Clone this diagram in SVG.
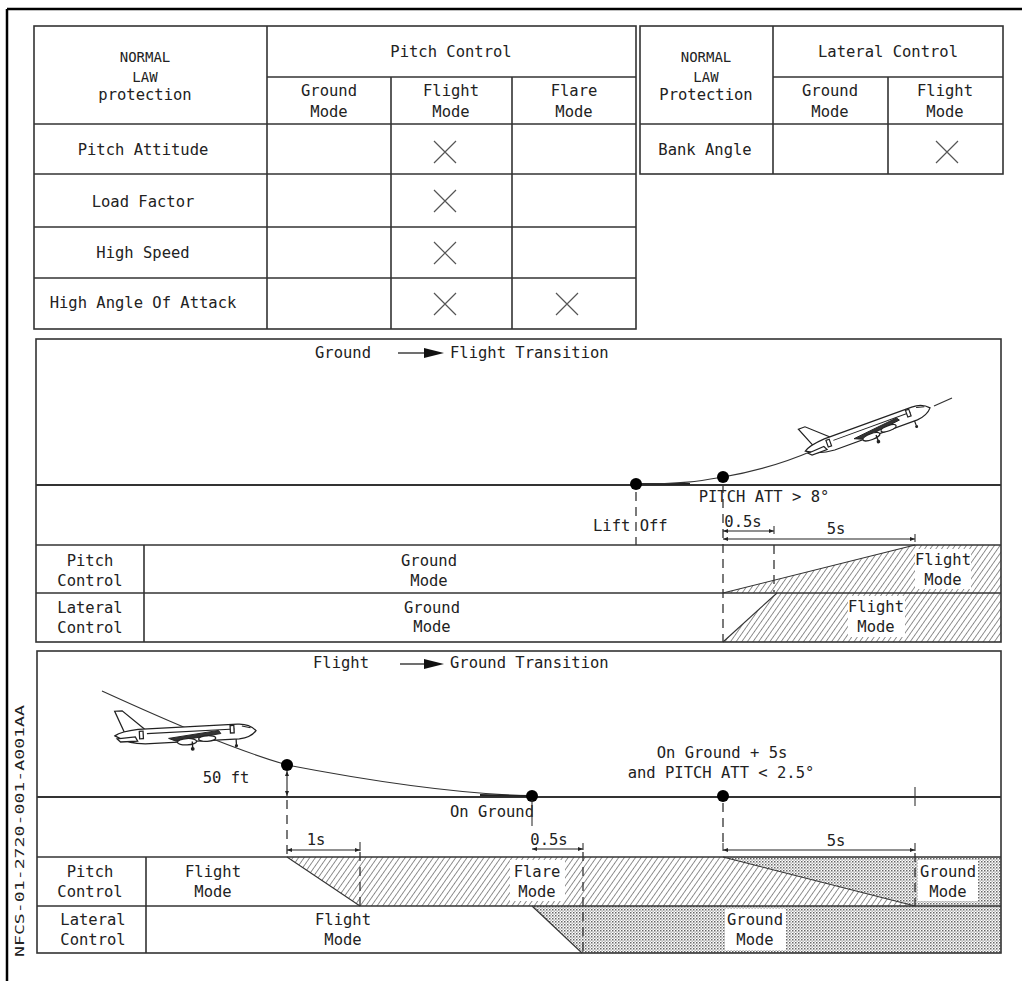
<svg xmlns="http://www.w3.org/2000/svg" width="1022" height="981" viewBox="0 0 1022 981">
<style>
.t{font-family:"DejaVu Sans Mono","Liberation Mono",monospace;font-size:15.5px;fill:#222}
.s{font-size:14px}
.c{text-anchor:middle}
.ln{stroke:#333;stroke-width:1.6;fill:none}
.th{stroke:#333;stroke-width:1.1;fill:none}
.dash{stroke:#333;stroke-width:1.3;fill:none;stroke-dasharray:9 6}
.xm{stroke:#555;stroke-width:1.2}
.dim{stroke:#222;stroke-width:1.1;fill:none;marker-start:url(#ah);marker-end:url(#ah)}
.dot{fill:#000}
.box{fill:#fff}
.pl{fill:#fff;stroke:#222;stroke-width:1.2}
.pk{stroke:#222;stroke-width:1;fill:none}
</style>
<defs>
<pattern id="hatch" patternUnits="userSpaceOnUse" width="4.6" height="4.6" patternTransform="rotate(35)">
<line x1="0" y1="0" x2="0" y2="4.6" stroke="#222" stroke-width="1"/>
</pattern>
<pattern id="stip" patternUnits="userSpaceOnUse" width="3" height="3">
<rect x="0" y="0" width="1.5" height="1.5" fill="#666"/>
<rect x="1.5" y="1.5" width="1.3" height="1.3" fill="#999"/>
</pattern>
<marker id="ah" viewBox="0 0 10 10" refX="10" refY="5" markerWidth="8" markerHeight="5" markerUnits="userSpaceOnUse" orient="auto-start-reverse">
<path d="M0,1 L10,5 L0,9 Z" fill="#222"/>
</marker>
<g id="plane">
<path class="pl" d="M9,-5 L1,-25 L8,-25 L29,-6 Z"/>
<path class="pl" d="M0,-2 Q6,-6 22,-7 L115,-7 Q126,-7 132,0 Q127,6 116,7 L28,7 Q12,6 0,-2 Z"/>
<path class="pl" d="M2,1 L19,0 L21,4 L5,4 Z"/>
<line class="pk" x1="30" y1="-2.5" x2="112" y2="-2.5"/>
<rect class="pl" x="23" y="-5" width="3.5" height="7"/>
<rect class="pl" x="108" y="-6" width="3.5" height="7"/>
<path class="pk" d="M119,-5 L127,-3"/>
<path d="M50,3 L97,-2 L99,1 L57,6 Z" fill="#333" stroke="#222" stroke-width="0.9"/>
<ellipse class="pl" cx="67" cy="7" rx="9" ry="3"/>
<ellipse class="pl" cx="86" cy="5" rx="8" ry="2.6"/>
<line x1="72" y1="7" x2="72" y2="13" stroke="#222" stroke-width="1.3"/>
<circle cx="72" cy="14" r="1.8" fill="#222"/>
<line x1="113" y1="7" x2="113" y2="12" stroke="#222" stroke-width="1.2"/>
<circle cx="113" cy="13" r="1.5" fill="#222"/>
</g>
</defs>

<rect width="1022" height="981" fill="#fff"/>

<g id="frame">
<line x1="7" y1="9" x2="1022" y2="9" stroke="#000" stroke-width="2.5"/>
<line x1="7" y1="9" x2="7" y2="981" stroke="#000" stroke-width="2.5"/>
</g>

<g id="pitch-table">
<rect class="ln" x="34" y="26" width="602" height="303"/>
<line class="ln" x1="267" y1="26" x2="267" y2="329"/>
<line class="ln" x1="267" y1="77" x2="636" y2="77"/>
<line class="ln" x1="391" y1="77" x2="391" y2="329"/>
<line class="ln" x1="512" y1="77" x2="512" y2="329"/>
<line class="ln" x1="34" y1="124" x2="636" y2="124"/>
<line class="ln" x1="34" y1="174" x2="636" y2="174"/>
<line class="ln" x1="34" y1="227" x2="636" y2="227"/>
<line class="ln" x1="34" y1="278" x2="636" y2="278"/>
<text class="t s c" x="145" y="62">NORMAL</text>
<text class="t s c" x="145" y="82">LAW</text>
<text class="t c" x="145" y="100">protection</text>
<text class="t c" x="451" y="57">Pitch Control</text>
<text class="t c" x="329" y="96">Ground</text>
<text class="t c" x="329" y="117">Mode</text>
<text class="t c" x="451" y="96">Flight</text>
<text class="t c" x="451" y="117">Mode</text>
<text class="t c" x="574" y="96">Flare</text>
<text class="t c" x="574" y="117">Mode</text>
<text class="t c" x="143" y="155">Pitch Attitude</text>
<text class="t c" x="143" y="207">Load Factor</text>
<text class="t c" x="143" y="258">High Speed</text>
<text class="t c" x="143" y="308">High Angle Of Attack</text>
<path class="xm" d="M434,141 L456,163 M456,141 L434,163"/>
<path class="xm" d="M434,190 L456,212 M456,190 L434,212"/>
<path class="xm" d="M434,242 L456,264 M456,242 L434,264"/>
<path class="xm" d="M434,293 L456,315 M456,293 L434,315"/>
<path class="xm" d="M556,293 L578,315 M578,293 L556,315"/>
</g>

<g id="lateral-table">
<rect class="ln" x="640" y="26" width="363" height="148"/>
<line class="ln" x1="773" y1="26" x2="773" y2="174"/>
<line class="ln" x1="773" y1="77" x2="1003" y2="77"/>
<line class="ln" x1="888" y1="77" x2="888" y2="174"/>
<line class="ln" x1="640" y1="124" x2="1003" y2="124"/>
<text class="t s c" x="706" y="62">NORMAL</text>
<text class="t s c" x="706" y="82">LAW</text>
<text class="t c" x="706" y="100">Protection</text>
<text class="t c" x="888" y="57">Lateral Control</text>
<text class="t c" x="830" y="96">Ground</text>
<text class="t c" x="830" y="117">Mode</text>
<text class="t c" x="945" y="96">Flight</text>
<text class="t c" x="945" y="117">Mode</text>
<text class="t c" x="705" y="155">Bank Angle</text>
<path class="xm" d="M936,141 L958,163 M958,141 L936,163"/>
</g>

<g id="ground-to-flight">
<polygon points="723,593 915,545 1001,545 1001,593" fill="url(#hatch)"/>
<polygon points="723,642 777,593 1001,593 1001,642" fill="url(#hatch)"/>
<rect class="box" x="915" y="549" width="56" height="40"/>
<rect class="box" x="848" y="596" width="57" height="41"/>
<rect class="ln" x="36" y="339" width="965" height="303"/>
<line x1="36" y1="485" x2="1001" y2="485" stroke="#333" stroke-width="2"/>
<line class="ln" x1="36" y1="545" x2="1001" y2="545"/>
<line class="ln" x1="36" y1="593" x2="1001" y2="593"/>
<line class="ln" x1="144" y1="545" x2="144" y2="642"/>
<line class="th" x1="723" y1="593" x2="915" y2="545"/>
<line class="th" x1="723" y1="642" x2="777" y2="593"/>
<text class="t" x="315" y="358">Ground</text>
<line x1="398" y1="353" x2="426" y2="353" stroke="#222" stroke-width="1.3"/>
<path d="M424,348 L444,353 L424,358 Z" fill="#111"/>
<text class="t" x="450" y="358">Flight Transition</text>
<path d="M636,484 L690,484" stroke="#222" stroke-width="2.2"/>
<path class="th" d="M636,484 C685,484 700,481 723,477 C752,472 782,464 812,451"/>
<line class="th" x1="934" y1="406" x2="952" y2="398"/>
<use href="#plane" transform="translate(806,453) rotate(-20)"/>
<circle class="dot" cx="636" cy="484" r="6"/>
<circle class="dot" cx="723" cy="477" r="6"/>
<text class="t c" x="764" y="502">PITCH ATT &gt; 8°</text>
<text class="t" x="593" y="531">Lift Off</text>
<line class="dash" x1="636" y1="492" x2="636" y2="545"/>
<line class="dash" x1="723" y1="484" x2="723" y2="642"/>
<line class="dash" x1="774" y1="545" x2="774" y2="592" stroke-dasharray="8 5"/>
<text class="t c" x="743" y="527">0.5s</text>
<text class="t c" x="836" y="534">5s</text>
<line class="dim" x1="723" y1="531" x2="774" y2="531"/>
<line class="th" x1="774" y1="526" x2="774" y2="534"/>
<line class="dim" x1="723" y1="539" x2="915" y2="539"/>
<line class="th" x1="915" y1="534" x2="915" y2="542"/>
<text class="t c" x="90" y="566">Pitch</text>
<text class="t c" x="90" y="586">Control</text>
<text class="t c" x="90" y="613">Lateral</text>
<text class="t c" x="90" y="633">Control</text>
<text class="t c" x="429" y="566">Ground</text>
<text class="t c" x="429" y="586">Mode</text>
<text class="t c" x="432" y="613">Ground</text>
<text class="t c" x="432" y="632">Mode</text>
<text class="t c" x="943" y="565">Flight</text>
<text class="t c" x="943" y="585">Mode</text>
<text class="t c" x="876" y="612">Flight</text>
<text class="t c" x="876" y="632">Mode</text>
</g>

<g id="flight-to-ground">
<polygon points="287,857 723,857 915,906 360,906" fill="url(#hatch)"/>
<polygon points="723,857 1001,857 1001,906 915,906" fill="url(#stip)"/>
<polygon points="532,906 1001,906 1001,953 582,953" fill="url(#stip)"/>
<rect class="box" x="510" y="860" width="55" height="41"/>
<rect class="box" x="918" y="860" width="60" height="41"/>
<rect class="box" x="725" y="909" width="61" height="41"/>
<rect class="ln" x="37" y="651" width="964" height="302"/>
<line x1="37" y1="797" x2="1001" y2="797" stroke="#333" stroke-width="1.8"/>
<line class="ln" x1="37" y1="857" x2="1001" y2="857"/>
<line class="ln" x1="37" y1="906" x2="1001" y2="906"/>
<line class="ln" x1="146" y1="857" x2="146" y2="953"/>
<line class="th" x1="287" y1="857" x2="360" y2="906"/>
<line class="th" x1="723" y1="857" x2="915" y2="906"/>
<line class="th" x1="532" y1="906" x2="582" y2="953"/>
<text class="t" x="313" y="668">Flight</text>
<line x1="400" y1="664" x2="426" y2="664" stroke="#222" stroke-width="1.3"/>
<path d="M424,659 L444,664 L424,669 Z" fill="#111"/>
<text class="t" x="450" y="668">Ground Transition</text>
<path class="th" d="M102,691 C170,722 230,748 287,765 C370,781 460,794 532,796"/>
<path d="M480,795 L532,796" stroke="#222" stroke-width="1.8"/>
<use href="#plane" transform="translate(115,738) rotate(-3) scale(1.07)"/>
<circle class="dot" cx="287" cy="765" r="6"/>
<circle class="dot" cx="532" cy="796" r="6"/>
<circle class="dot" cx="723" cy="796" r="6"/>
<line class="th" x1="915" y1="787" x2="915" y2="806"/>
<text class="t c" x="226" y="783">50 ft</text>
<line class="dim" x1="287" y1="771" x2="287" y2="796"/>
<line class="dash" x1="287" y1="800" x2="287" y2="857"/>
<text class="t c" x="492" y="817">On Ground</text>
<line class="th" x1="532" y1="800" x2="532" y2="826"/>
<text class="t c" x="722" y="758">On Ground + 5s</text>
<text class="t c" x="721" y="778">and PITCH ATT &lt; 2.5°</text>
<line class="dash" x1="723" y1="803" x2="723" y2="843"/>
<text class="t c" x="316" y="845">1s</text>
<line class="dim" x1="287" y1="850" x2="360" y2="850"/>
<line class="th" x1="360" y1="842" x2="360" y2="851"/>
<line class="dash" x1="360" y1="852" x2="360" y2="906" stroke-dasharray="6 5"/>
<text class="t c" x="549" y="845">0.5s</text>
<line class="dim" x1="532" y1="849" x2="583" y2="849"/>
<line class="th" x1="583" y1="843" x2="583" y2="850"/>
<line class="dash" x1="583" y1="852" x2="583" y2="953" stroke-dasharray="6 5"/>
<text class="t c" x="836" y="846">5s</text>
<line class="dim" x1="723" y1="850" x2="915" y2="850"/>
<line class="th" x1="723" y1="843" x2="723" y2="851"/>
<line class="th" x1="915" y1="843" x2="915" y2="851"/>
<line class="dash" x1="915" y1="853" x2="915" y2="906" stroke="#888" stroke-dasharray="6 5"/>
<text class="t c" x="90" y="877">Pitch</text>
<text class="t c" x="90" y="897">Control</text>
<text class="t c" x="93" y="925">Lateral</text>
<text class="t c" x="93" y="945">Control</text>
<text class="t c" x="213" y="877">Flight</text>
<text class="t c" x="213" y="897">Mode</text>
<text class="t c" x="537" y="877">Flare</text>
<text class="t c" x="537" y="897">Mode</text>
<text class="t c" x="948" y="877">Ground</text>
<text class="t c" x="948" y="897">Mode</text>
<text class="t c" x="343" y="925">Flight</text>
<text class="t c" x="343" y="945">Mode</text>
<text class="t c" x="755" y="925">Ground</text>
<text class="t c" x="755" y="945">Mode</text>
</g>

<g id="ref-code">
<text class="t" x="0" y="0" style="font-size:11.5px" textLength="252" lengthAdjust="spacingAndGlyphs" transform="translate(24,957) rotate(-90)">NFCS-01-2720-001-A001AA</text>
</g>
</svg>
